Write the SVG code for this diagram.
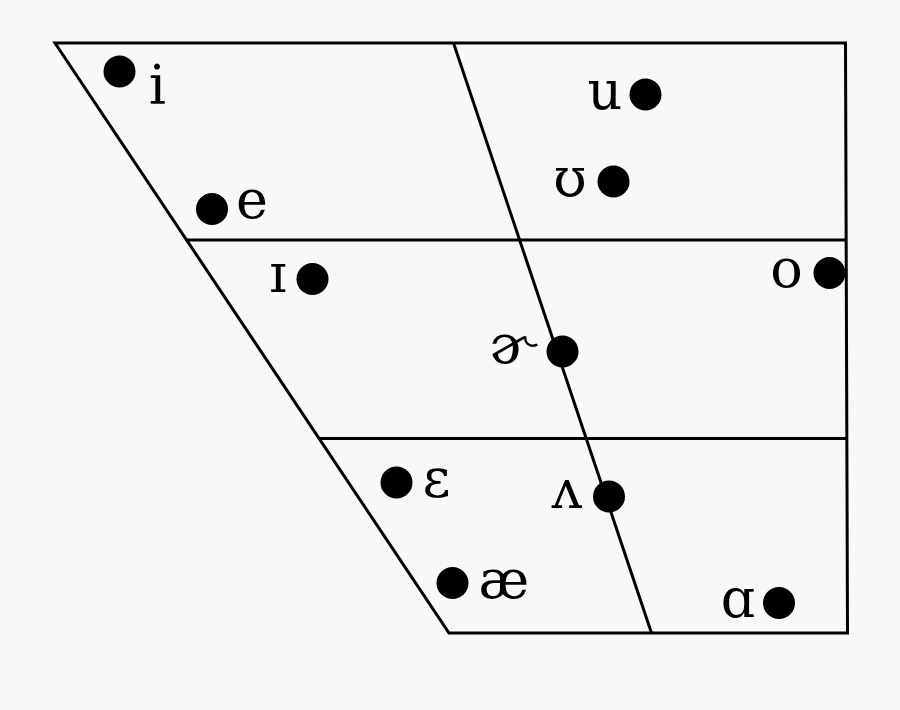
<svg xmlns="http://www.w3.org/2000/svg" width="900" height="710" viewBox="0 0 900 710">
<style>
.ln{fill:none;stroke:#000;stroke-width:3;stroke-linejoin:miter}
.dot{fill:#000}
.lb{font-family:"DejaVu Serif","Liberation Serif",serif;font-size:54px;fill:#000;text-anchor:middle}
</style>
<rect width="900" height="710" fill="#f8f8f8"/>
<g id="connectors">
<polygon class="ln" points="55,43 845.5,43 847.5,633 449,633"/>
<line class="ln" x1="187" y1="240" x2="846" y2="240"/>
<line class="ln" x1="319" y1="438.5" x2="847" y2="438.5"/>
<line class="ln" x1="453.5" y1="43" x2="651.5" y2="633"/>
</g>
<g id="v-i"><circle class="dot" cx="119.5" cy="71.5" r="16"/><text class="lb" x="157.5" y="104">i</text></g>
<g id="v-e"><circle class="dot" cx="212" cy="209" r="16"/><text class="lb" x="252" y="218">e</text></g>
<g id="v-u"><circle class="dot" cx="645.5" cy="94.5" r="16"/><text class="lb" x="605" y="109">u</text></g>
<g id="v-upsilon"><circle class="dot" cx="613.5" cy="181.5" r="16"/><text class="lb" x="570" y="195.5">ʊ</text></g>
<g id="v-o"><circle class="dot" cx="829.5" cy="273" r="16"/><text class="lb" x="786.5" y="286.5">o</text></g>
<g id="v-smallcapI"><circle class="dot" cx="312.5" cy="279" r="16"/><text class="lb" x="278" y="292">ɪ</text></g>
<g id="v-schwar"><circle class="dot" cx="562.5" cy="351.5" r="16"/><text class="lb" x="512" y="363">ɚ</text></g>
<g id="v-epsilon"><circle class="dot" cx="396.5" cy="482.5" r="16"/><text class="lb" x="436.5" y="496.5">ɛ</text></g>
<g id="v-wedge"><circle class="dot" cx="609" cy="496.5" r="16"/><text class="lb" x="567" y="508">ʌ</text></g>
<g id="v-ae"><circle class="dot" cx="452.5" cy="583" r="16"/><text class="lb" x="504" y="598">æ</text></g>
<g id="v-alpha"><circle class="dot" cx="779" cy="603" r="16"/><text class="lb" x="738" y="617">ɑ</text></g>
</svg>
